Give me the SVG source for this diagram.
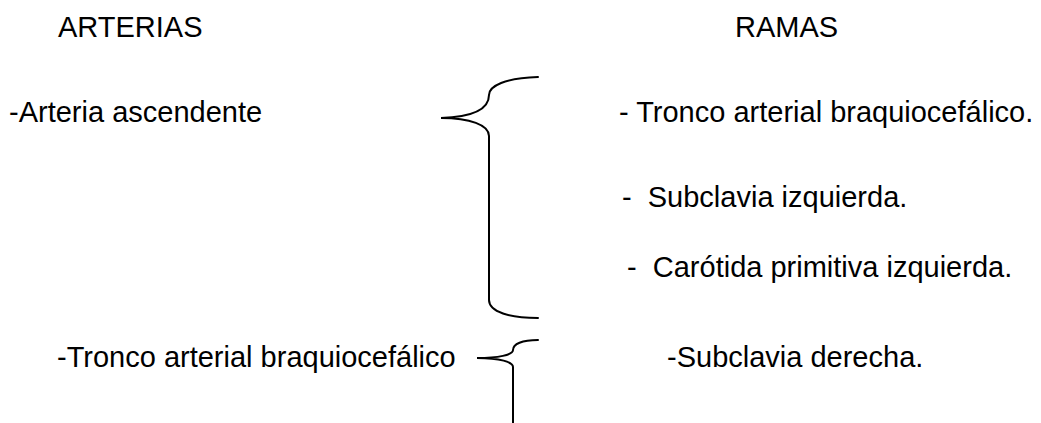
<svg xmlns="http://www.w3.org/2000/svg" width="1041" height="423" viewBox="0 0 1041 423">
  <style>
    .t { font-family: "Liberation Sans", Arial, sans-serif; font-size: 29px; fill: #000; white-space: pre; }
    .brace { fill: none; stroke: #000; stroke-width: 2; stroke-linecap: round; }
  </style>
  <rect width="1041" height="423" fill="#fff"/>

  <!-- column headings -->
  <g id="head-arterias"><text class="t" x="58" y="37">ARTERIAS</text></g>
  <g id="head-ramas"><text class="t" x="735" y="37">RAMAS</text></g>

  <!-- arteries -->
  <g id="arteria-ascendente"><text class="t" x="9" y="122">-Arteria ascendente</text></g>
  <g id="tronco-braquiocefalico"><text class="t" x="57" y="367">-Tronco arterial braquiocefálico</text></g>

  <!-- branches -->
  <g id="rama-tronco"><text class="t" x="619" y="122">- Tronco arterial braquiocefálico.</text></g>
  <g id="rama-subclavia-izq"><text class="t" x="622" y="207">-  Subclavia izquierda.</text></g>
  <g id="rama-carotida-izq"><text class="t" x="627" y="277">-  Carótida primitiva izquierda.</text></g>
  <g id="rama-subclavia-der"><text class="t" x="667" y="367">-Subclavia derecha.</text></g>

  <!-- braces linking arteries to branches -->
  <g id="connectors">
    <path class="brace" d="M538,77 C505,78 489,86 489,95 C489,110 470,117 441,118 C470,118 489,125 489,136 L489,300 C489,312 510,318 538,318"/>
    <path class="brace" d="M538,340 C522,340 513,344 513,350 C513,355 498,358 477,358 C500,358 513,362 513,367 L513,423"/>
  </g>
</svg>
